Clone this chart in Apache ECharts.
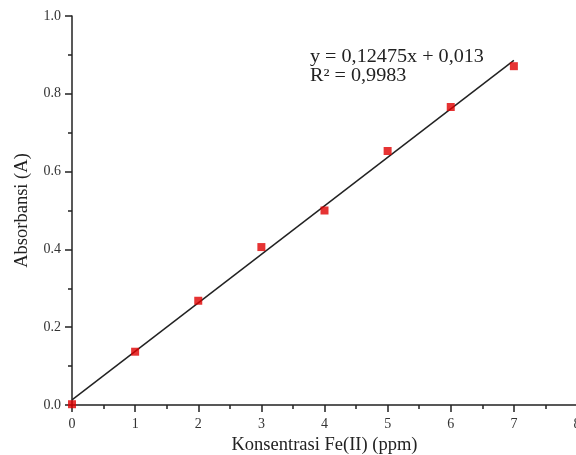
<!DOCTYPE html>
<html>
<head>
<meta charset="utf-8">
<script src="https://cdn.jsdelivr.net/npm/echarts@6/dist/echarts.min.js"></script>
<style>
html,body{margin:0;padding:0;background:#fff;}
#c{width:576px;height:455px;}
</style>
</head>
<body>
<div id="c"></div>
<script>
var concentrations = [0, 1, 2, 3, 4, 5, 6, 7];
var absorbances = [0.002, 0.137, 0.268, 0.406, 0.500, 0.653, 0.766, 0.871];
var fitLineX = [0, 7];
var fitLineY = [0.013, 0.886];
var equationText = 'y = 0,12475x + 0,013';
var r2Text = 'R\u00B2 = 0,9983';

var pts = concentrations.map(function (x, i) { return [x, absorbances[i]]; });
var fit = fitLineX.map(function (x, i) { return [x, fitLineY[i]]; });

var font = '"Liberation Serif", "DejaVu Serif", serif';
var chart = echarts.init(document.getElementById('c'), null, {renderer: 'canvas'});
chart.setOption({
  animation: false,
  backgroundColor: '#fff',
  grid: {left: 72, top: 16, width: 505, height: 389, containLabel: false, outerBoundsMode: 'none'},
  xAxis: {
    type: 'value', min: 0, max: 8, interval: 1,
    name: 'Konsentrasi Fe(II) (ppm)', nameLocation: 'middle', nameGap: 26,
    nameTextStyle: {fontFamily: font, fontSize: 18.5, color: '#222'},
    axisLine: {show: true, onZero: false, lineStyle: {color: '#222', width: 1.5}},
    axisTick: {show: true, inside: false, length: 7, lineStyle: {color: '#222', width: 1.5}},
    minorTick: {show: true, splitNumber: 2, length: 4, lineStyle: {color: '#222', width: 1.5}},
    axisLabel: {fontFamily: font, fontSize: 14, color: '#333', margin: 12},
    splitLine: {show: false}
  },
  yAxis: {
    type: 'value', min: 0, max: 1.0, interval: 0.2,
    name: 'Absorbansi (A)', nameLocation: 'middle', nameGap: 40,
    nameTextStyle: {fontFamily: font, fontSize: 18.5, color: '#222'},
    axisLine: {show: true, onZero: false, lineStyle: {color: '#222', width: 1.5}},
    axisTick: {show: true, inside: false, length: 7, lineStyle: {color: '#222', width: 1.5}},
    minorTick: {show: true, splitNumber: 2, length: 4, lineStyle: {color: '#222', width: 1.5}},
    axisLabel: {fontFamily: font, fontSize: 14, color: '#333', margin: 11,
      formatter: function (v) { return v.toFixed(1); }},
    splitLine: {show: false}
  },
  graphic: [
    {type: 'text', x: 310, y: 48, scaleX: 1.12, style: {text: equationText, font: '18px ' + font, fill: '#222'}},
    {type: 'text', x: 310, y: 67, scaleX: 1.12, style: {text: r2Text, font: '18px ' + font, fill: '#222'}}
  ],
  series: [
    {
      type: 'line', data: fit, showSymbol: false, symbol: 'none',
      lineStyle: {color: '#222', width: 1.5}, z: 2
    },
    {
      type: 'scatter', data: pts, symbol: 'rect', symbolSize: 8,
      itemStyle: {color: '#e00000'}, z: 3
    }
  ]
});
</script>
</body>
</html>
